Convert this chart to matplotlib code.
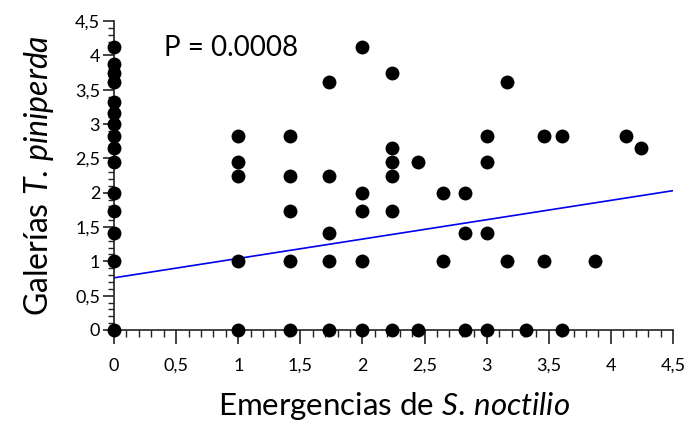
import numpy as np
import matplotlib
matplotlib.use("Agg")
import matplotlib.pyplot as plt
from matplotlib.ticker import MultipleLocator, FuncFormatter

plt.rcParams["mathtext.fontset"] = "custom"
plt.rcParams["mathtext.it"] = "Lato:italic"
plt.rcParams["mathtext.rm"] = "Lato"

# Data
x_vals = [0]*15 + [1]*5 + [1.414]*5 + [1.732]*5 + [2]*5 + [2.236]*6 \
    + [2.449]*2 + [2.646]*2 + [2.828]*3 + [3]*4 + [3.162]*2 + [3.317] \
    + [3.464]*2 + [3.606]*2 + [3.873] + [4.123] + [4.243]
y_vals = [4.123, 3.873, 3.742, 3.606, 3.317, 3.162, 3.0, 2.828, 2.646, 2.449, 2.0, 1.732, 1.414, 1.0, 0.0,
          2.828, 2.449, 2.236, 1.0, 0.0,
          2.828, 2.236, 1.732, 1.0, 0.0,
          3.606, 2.236, 1.414, 1.0, 0.0,
          4.123, 2.0, 1.732, 1.0, 0.0,
          3.742, 2.646, 2.449, 2.236, 1.732, 0.0,
          2.449, 0.0,
          2.0, 1.0,
          2.0, 1.414, 0.0,
          2.828, 2.449, 1.414, 0.0,
          3.606, 1.0,
          0.0,
          2.828, 1.0,
          2.828, 0.0,
          1.0,
          2.828,
          2.646]
fit_intercept = 0.76
fit_slope = 0.282
fit_x = [0, 4.5]
p_text = "P = 0.0008"

fig = plt.figure(figsize=(6.89, 4.34), dpi=100)
ax = fig.add_axes([114/689, 1-330/434, (673-114)/689, (330-21)/434])

ax.scatter(x_vals, y_vals, s=100, color="black", zorder=3, clip_on=False, linewidths=0)
fx = np.array(fit_x)
ax.plot(fx, fit_intercept + fit_slope*fx, color="#0000ee", lw=1.2, zorder=2)

ax.set_xlim(0, 4.5)
ax.set_ylim(0, 4.5)
for s in ["top", "right"]:
    ax.spines[s].set_visible(False)
for s in ["left", "bottom"]:
    ax.spines[s].set_linewidth(1.2)
    ax.spines[s].set_color("#222222")

fmt = FuncFormatter(lambda v, p: ("%g" % v).replace(".", ","))
ax.xaxis.set_major_locator(MultipleLocator(0.5))
ax.xaxis.set_minor_locator(MultipleLocator(0.1))
ax.yaxis.set_major_locator(MultipleLocator(0.5))
ax.yaxis.set_minor_locator(MultipleLocator(0.1))
ax.xaxis.set_major_formatter(fmt)
ax.yaxis.set_major_formatter(fmt)

tick_font = "Lato"
ax.tick_params(axis="x", which="major", direction="out", length=10, width=1.2, pad=10, labelsize=13, colors="#222222", labelcolor="black")
ax.tick_params(axis="x", which="minor", direction="out", length=5, width=1, colors="#222222")
ax.tick_params(axis="y", which="major", direction="out", length=8, width=1.2, pad=2, labelsize=13, colors="#222222", labelcolor="black")
ax.tick_params(axis="y", which="minor", direction="out", length=4, width=1, colors="#222222")
for lab in ax.get_xticklabels() + ax.get_yticklabels():
    lab.set_fontfamily(tick_font)

ax.set_xlabel(r"Emergencias de $\mathit{S.}\,\mathit{noctilio}$", fontsize=22.5, fontfamily="Lato", labelpad=12)
ax.set_ylabel(r"Galerías $\mathit{T.}\,\mathit{piniperda}$", fontsize=23, fontfamily="Lato", labelpad=14)

ax.text(0.4, 4.1, p_text, fontsize=20, fontfamily="Lato", ha="left", va="center")

fig.savefig("out.png", dpi=100)
